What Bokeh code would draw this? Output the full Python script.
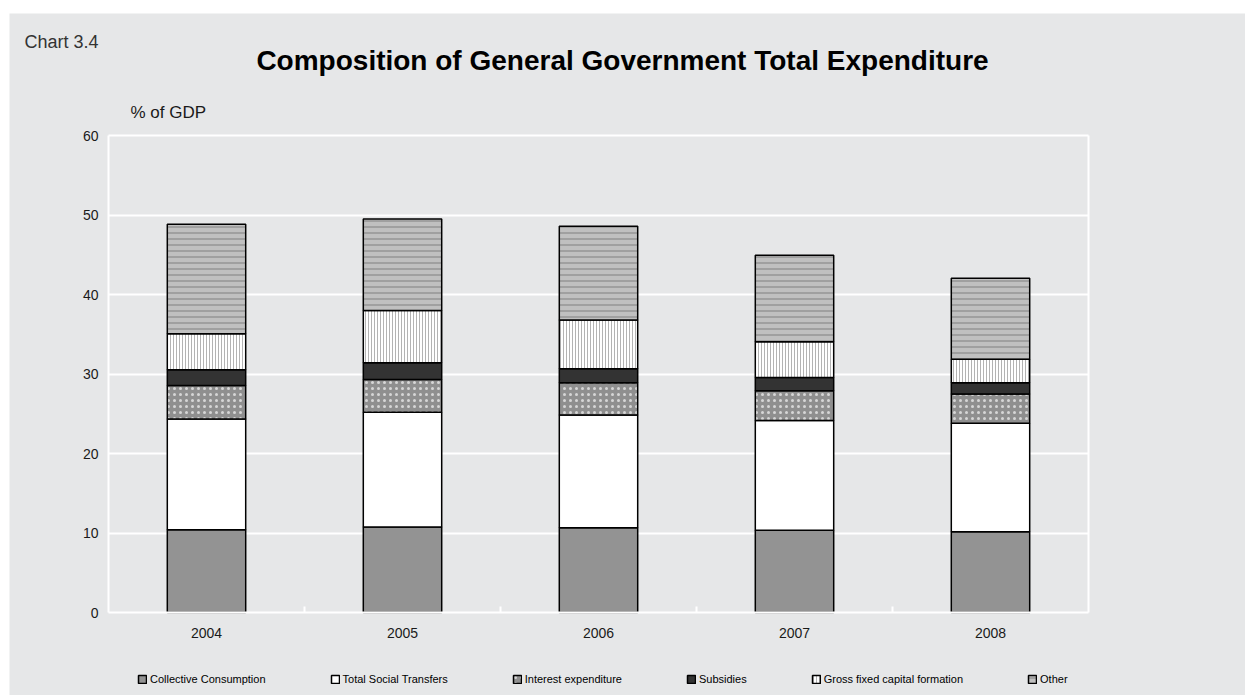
from bokeh.plotting import figure
from bokeh.models import (Label, Legend, LegendItem, ColumnDataSource, Spacer,
                          LinearAxis, FixedTicker, Range1d)
from bokeh.layouts import column, row
from bokeh.embed import file_html
from bokeh.resources import INLINE

years = ["2004", "2005", "2006", "2007", "2008"]
collective = [10.4, 10.75, 10.65, 10.35, 10.15]
social = [13.95, 14.45, 14.2, 13.8, 13.65]
interest = [4.2, 4.1, 4.05, 3.75, 3.7]
subsidies = [2.0, 2.1, 1.75, 1.65, 1.4]
gfcf = [4.5, 6.6, 6.15, 4.5, 2.95]
other = [13.8, 11.5, 11.8, 10.9, 10.2]

series_names = ["Collective Consumption", "Total Social Transfers", "Interest expenditure",
                "Subsidies", "Gross fixed capital formation", "Other"]
keys = ["collective", "social", "interest", "subsidies", "gfcf", "other"]
y_ticks = [0, 10, 20, 30, 40, 50, 60]
grid_ticks = [10, 20, 30, 40, 50, 60]

BG = "#e6e7e8"
W, H = 1236, 682
n = len(years)
centers = [i + 0.5 for i in range(n)]          # one slot per year
PX_PER_UNIT = 477 / 60                          # 0..60 spans 477 px
Y_START = -83 / PX_PER_UNIT
Y_END = 599 / PX_PER_UNIT
X_START = -99 / 196                             # each year slot is 196 px wide
X_END = n + 157 / 196

src = ColumnDataSource(dict(x=centers, year=years, collective=collective, social=social,
                            interest=interest, subsidies=subsidies, gfcf=gfcf, other=other))

p = figure(x_range=Range1d(X_START, X_END), y_range=Range1d(Y_START, Y_END),
           title=None, width=W, height=H, output_backend="svg", toolbar_location=None,
           min_border_left=0, min_border_right=0, min_border_top=0, min_border_bottom=0,
           background_fill_color=BG, border_fill_color=BG)

renderers = p.vbar_stack(keys, x="x", width=0.4, source=src,
                         fill_color=["#939393", "#ffffff", "#8f8f8f", "#333333", "#ffffff", "#c0c0c0"],
                         hatch_pattern=[" ", " ", ".", " ", "|", "-"],
                         hatch_color=["#939393", "#ffffff", "#d6d6d6", "#333333", "#b3b3b3", "#a0a0a0"],
                         hatch_scale=[6, 6, 6, 6, 3, 6],
                         hatch_weight=[1, 1, 1.2, 1, 1, 2],
                         line_color="black", line_width=1.5)

p.outline_line_color = None
p.xgrid.grid_line_color = None
p.ygrid.ticker = FixedTicker(ticks=grid_ticks)
p.ygrid.cross_bounds = (0, n)
p.ygrid.grid_line_color = "white"
p.ygrid.grid_line_width = 2

p.yaxis.fixed_location = 0
p.yaxis.ticker = FixedTicker(ticks=y_ticks)
p.yaxis.bounds = (0, 60)
p.yaxis.axis_line_color = "white"
p.yaxis.axis_line_width = 2
p.yaxis.major_tick_line_color = None
p.yaxis.minor_tick_line_color = None
p.yaxis.major_tick_out = 0
p.yaxis.major_label_standoff = 10

p.xaxis.fixed_location = 0
p.xaxis.ticker = FixedTicker(ticks=centers)
p.xaxis.major_label_overrides = {c: y for c, y in zip(centers, years)}
p.xaxis.bounds = (0, n)
p.xaxis.axis_line_color = "white"
p.xaxis.axis_line_width = 2
p.xaxis.major_tick_line_color = None
p.xaxis.minor_tick_line_color = None
p.xaxis.major_tick_out = 0
p.xaxis.major_label_standoff = 15
for ax in (p.xaxis, p.yaxis):
    ax.major_label_text_font = "Liberation Sans"
    ax.major_label_text_font_size = "14px"
    ax.major_label_text_color = "#1a1a1a"

# right edge of the white box
right_ax = LinearAxis(fixed_location=n, ticker=FixedTicker(ticks=[]), bounds=(0, 60),
                      axis_line_color="white", axis_line_width=2, major_tick_line_color=None,
                      minor_tick_line_color=None, major_label_text_color=None)
p.add_layout(right_ax, "right")

# small white ticks between the year slots
sep_ax = LinearAxis(fixed_location=0, ticker=FixedTicker(ticks=list(range(1, n))),
                    axis_line_color=None, major_tick_line_color="white", major_tick_line_width=2,
                    major_tick_in=6, major_tick_out=0, minor_tick_line_color=None,
                    major_label_text_color=None)
p.add_layout(sep_ax, "below")

p.add_layout(Label(x=15, y=654, x_units="screen", y_units="screen", text_baseline="alphabetic",
                   text="Chart 3.4", text_font="Liberation Sans", text_font_size="18px",
                   text_color="#333333"))
p.add_layout(Label(x=613, y=635, x_units="screen", y_units="screen", text_align="center",
                   text_baseline="alphabetic",
                   text="Composition of General Government Total Expenditure",
                   text_font="Liberation Sans", text_font_size="28px", text_font_style="bold",
                   text_color="#000000"))
p.add_layout(Label(x=121, y=583, x_units="screen", y_units="screen", text_baseline="alphabetic",
                   text="% of GDP", text_font="Liberation Sans", text_font_size="17px",
                   text_color="#1a1a1a"))

legend = Legend(items=[LegendItem(label=nm, renderers=[r]) for nm, r in zip(series_names, renderers)],
                location=(128, 10), orientation="horizontal",
                glyph_width=10, glyph_height=10, label_height=12, label_width=10,
                label_standoff=3, padding=2, margin=0, spacing=64,
                border_line_color=None, background_fill_alpha=0,
                label_text_font="Liberation Sans",
                label_text_font_size="11px", label_text_color="#000000")
p.add_layout(legend)

layout = column(Spacer(height=13), row(Spacer(width=9), p))
open("out.html", "w").write(file_html(layout, INLINE))
